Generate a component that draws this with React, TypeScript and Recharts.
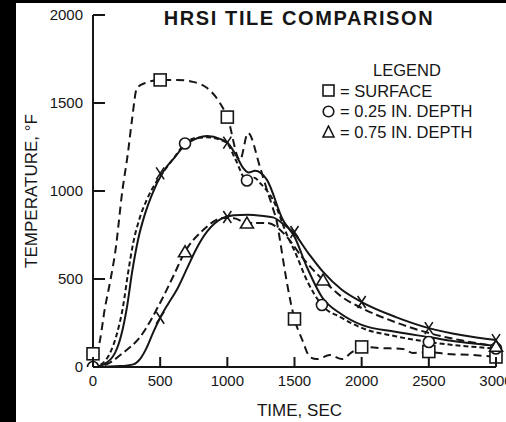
import { ComposedChart, Line, Scatter, XAxis, YAxis, Legend } from 'recharts';

const timeTicks = [0, 500, 1000, 1500, 2000, 2500, 3000];
const tempTicks = [0, 500, 1000, 1500, 2000];

// surface, measured (dashed, squares)
const surfaceT = [0, 40, 90, 130, 165, 220, 260, 290, 327, 390, 500, 625, 745, 850, 945, 1000, 1094, 1154, 1243, 1295, 1340, 1370, 1392, 1444, 1500, 1560, 1615, 1667, 1764, 1853, 1928, 2009, 2136, 2308, 2382, 2500, 2635, 2830, 3000];
const surfaceV = [75, 114, 340, 495, 650, 1010, 1216, 1403, 1585, 1614, 1631, 1631, 1620, 1585, 1500, 1420, 1176, 1330, 1136, 1006, 900, 820, 720, 477, 273, 150, 57, 45, 68, 45, 85, 114, 108, 102, 80, 85, 74, 68, 57];

// 0.25 in. depth, measured (dashed, circles)
const quarterT = [0, 60, 127, 175, 223, 261, 298, 345, 400, 470, 540, 610, 685, 760, 850, 950, 1000, 1060, 1146, 1200, 1250, 1340, 1450, 1500, 1600, 1704, 1850, 2000, 2250, 2500, 2750, 3000];
const quarterV = [0, 15, 80, 180, 341, 534, 700, 840, 950, 1050, 1125, 1195, 1270, 1300, 1305, 1290, 1270, 1180, 1060, 1075, 1040, 950, 740, 660, 480, 352, 280, 222, 175, 142, 120, 105];

// 0.25 in. depth, predicted (solid)
const quarterPredT = [0, 80, 164, 210, 253, 290, 335, 387, 439, 521, 610, 685, 760, 850, 950, 1000, 1072, 1117, 1160, 1206, 1295, 1414, 1500, 1592, 1704, 1850, 2000, 2250, 2500, 2750, 3000];
const quarterPredV = [0, 15, 80, 180, 341, 534, 722, 870, 980, 1108, 1193, 1261, 1295, 1312, 1295, 1275, 1193, 1131, 1105, 1115, 1063, 835, 740, 568, 398, 300, 239, 200, 170, 140, 120];

// 0.75 in. depth, measured (dashed, triangles)
const threeQT = [0, 100, 223, 350, 500, 600, 685, 820, 968, 1050, 1146, 1295, 1444, 1550, 1713, 1850, 2000, 2250, 2500, 2750, 3000];
const threeQV = [0, 15, 80, 170, 365, 520, 655, 778, 847, 845, 818, 818, 739, 630, 494, 400, 335, 255, 193, 150, 118];

// 0.75 in. depth, predicted (solid)
const threeQPredT = [0, 200, 300, 350, 400, 450, 500, 560, 625, 700, 765, 850, 950, 1050, 1150, 1250, 1340, 1420, 1489, 1600, 1713, 1850, 2000, 2250, 2500, 2750, 3000];
const threeQPredV = [0, 5, 15, 45, 110, 200, 280, 360, 440, 560, 665, 770, 840, 862, 865, 860, 850, 810, 767, 650, 540, 440, 369, 285, 221, 180, 153];

const squareT = [0, 500, 1000, 1500, 2000, 2500, 3000];
const squareV = [75, 1631, 1420, 273, 114, 88, 57];
const circleT = [0, 685, 1146, 1704, 2500, 3000];
const circleV = [0, 1270, 1060, 352, 142, 105];
const triangleT = [685, 1146, 1713, 3000];
const triangleV = [655, 818, 494, 118];
const crossT = [500, 1000, 500, 1000, 1500, 2000, 2500, 3000];
const crossV = [1100, 1275, 280, 852, 767, 369, 221, 153];

const legendNames = ['SURFACE', '0.25 IN. DEPTH', '0.75 IN. DEPTH'];
const legendShapes = ['square', 'circle', 'triangle'];

const INK = '#161616';
const FONT = '"Liberation Sans", Arial, Helvetica, sans-serif';

const pts = (ts: number[], vs: number[]) => ts.map((t, i) => ({ t, v: vs[i] }));

function SquareMark({ cx, cy }: any) {
  return <rect x={cx - 6} y={cy - 6} width={12} height={12} fill="#fff" stroke={INK} strokeWidth={1.6} />;
}
function CircleMark({ cx, cy }: any) {
  return <circle cx={cx} cy={cy} r={5.5} fill="#fff" stroke={INK} strokeWidth={1.6} />;
}
function TriangleMark({ cx, cy }: any) {
  return <path d={`M${cx},${cy - 6}L${cx + 6.5},${cy + 5}L${cx - 6.5},${cy + 5}Z`} fill="#fff" stroke={INK} strokeWidth={1.6} />;
}
function CrossMark({ cx, cy }: any) {
  return (
    <path d={`M${cx - 4},${cy - 6}L${cx + 4},${cy + 6}M${cx + 4},${cy - 6}L${cx - 4},${cy + 6}`} stroke={INK} strokeWidth={1.6} />
  );
}

function LegendIcon({ shape }: { shape: string }) {
  return (
    <svg width={13} height={13} style={{ display: 'block' }}>
      {shape === 'square' && <rect x={1} y={1} width={11} height={11} fill="none" stroke={INK} strokeWidth={1.6} />}
      {shape === 'circle' && <circle cx={6.5} cy={6.5} r={5.3} fill="none" stroke={INK} strokeWidth={1.6} />}
      {shape === 'triangle' && <path d="M6.5,1L12,12H1Z" fill="none" stroke={INK} strokeWidth={1.6} />}
    </svg>
  );
}

function LegendBox() {
  return (
    <div style={{ fontFamily: FONT, fontSize: 16.5, color: INK, lineHeight: '20.5px' }}>
      <div style={{ paddingLeft: 51 }}>LEGEND</div>
      {legendNames.map((name, i) => (
        <div key={name} style={{ display: 'flex', alignItems: 'center' }}>
          <LegendIcon shape={legendShapes[i]} />
          <span style={{ marginLeft: 5 }}>= {name}</span>
        </div>
      ))}
    </div>
  );
}

function TempTick({ x, y, payload }: any) {
  return (
    <g>
      <line x1={x + 10} x2={x + 22} y1={y} y2={y} stroke={INK} strokeWidth={2} />
      <text x={x} y={y} dy={5} textAnchor="end" fontSize={15} fill={INK} fontFamily={FONT}>
        {payload.value}
      </text>
    </g>
  );
}

function TimeTick({ x, y, payload }: any) {
  return (
    <g>
      <line x1={x} x2={x} y1={y - 8} y2={y - 18} stroke={INK} strokeWidth={2} />
      <text x={x} y={y} dy={11} textAnchor="middle" fontSize={15} fill={INK} fontFamily={FONT}>
        {payload.value}
      </text>
    </g>
  );
}

export default function App() {
  return (
    <div style={{ position: 'absolute', left: 0, top: 0, width: 506, height: 422, background: '#000' }}>
      <div style={{ position: 'absolute', left: 16, top: 3, width: 490, height: 419, background: '#fff' }} />
      <div style={{ position: 'absolute', left: 0, top: 0 }}>
        <ComposedChart width={506} height={422} margin={{ top: 15, right: 10, bottom: 25, left: 33 }}>
          <text x={299} y={25} textAnchor="middle" fontSize={20} fontWeight="bold" letterSpacing={1.6} fill={INK} fontFamily={FONT}>
            HRSI TILE COMPARISON
          </text>
          <XAxis
            type="number"
            dataKey="t"
            domain={[0, 3000]}
            ticks={timeTicks}
            interval={0}
            height={30}
            tickSize={0}
            tickMargin={8}
            tickLine={false}
            tick={<TimeTick />}
            axisLine={{ stroke: INK, strokeWidth: 2 }}
            label={{
              value: 'TIME, SEC',
              content: ({ viewBox }: any) => (
                <text x={viewBox.x + viewBox.width / 2 + 5} y={viewBox.y + 49} textAnchor="middle" fontSize={17} fill={INK} fontFamily={FONT}>
                  TIME, SEC
                </text>
              ),
            }}
          />
          <YAxis
            type="number"
            dataKey="v"
            domain={[0, 2000]}
            ticks={tempTicks}
            interval={0}
            width={60}
            allowDataOverflow
            tickSize={0}
            tickMargin={10}
            tickLine={false}
            tick={<TempTick />}
            axisLine={{ stroke: INK, strokeWidth: 2 }}
            label={{
              value: 'TEMPERATURE, °F',
              content: ({ viewBox }: any) => {
                const cx = viewBox.x + 4;
                const cy = viewBox.y + viewBox.height / 2;
                return (
                  <text x={cx} y={cy} transform={`rotate(-90, ${cx}, ${cy})`} textAnchor="middle" fontSize={17} fill={INK} fontFamily={FONT}>
                    TEMPERATURE, °F
                  </text>
                );
              },
            }}
          />
          <Legend
            layout="horizontal"
            verticalAlign="middle"
            align="center"
            wrapperStyle={{ left: 322, top: 60, width: 170, height: 84 }}
            content={() => <LegendBox />}
          />
          <Line data={pts(surfaceT, surfaceV)} dataKey="v" type="monotone" stroke={INK} strokeWidth={2} strokeDasharray="8 5" dot={false} isAnimationActive={false} />
          <Line data={pts(quarterT, quarterV)} dataKey="v" type="monotone" stroke={INK} strokeWidth={2} strokeDasharray="5 3" dot={false} isAnimationActive={false} />
          <Line data={pts(quarterPredT, quarterPredV)} dataKey="v" type="monotone" stroke={INK} strokeWidth={2} dot={false} isAnimationActive={false} />
          <Line data={pts(threeQT, threeQV)} dataKey="v" type="monotone" stroke={INK} strokeWidth={2} strokeDasharray="8 4" dot={false} isAnimationActive={false} />
          <Line data={pts(threeQPredT, threeQPredV)} dataKey="v" type="monotone" stroke={INK} strokeWidth={2} dot={false} isAnimationActive={false} />
          <Scatter data={pts(squareT, squareV)} dataKey="v" shape={<SquareMark />} isAnimationActive={false} />
          <Scatter data={pts(circleT, circleV)} dataKey="v" shape={<CircleMark />} isAnimationActive={false} />
          <Scatter data={pts(triangleT, triangleV)} dataKey="v" shape={<TriangleMark />} isAnimationActive={false} />
          <Scatter data={pts(crossT, crossV)} dataKey="v" shape={<CrossMark />} isAnimationActive={false} />
        </ComposedChart>
      </div>
    </div>
  );
}
